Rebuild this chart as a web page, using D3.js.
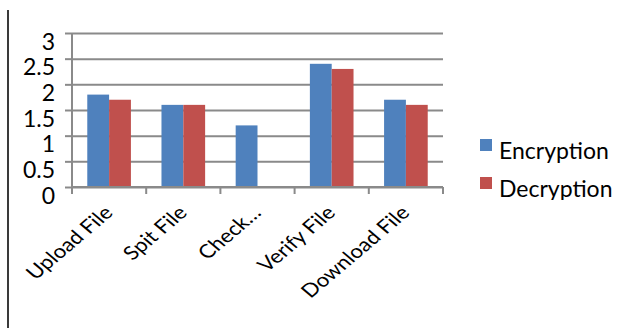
<!DOCTYPE html>
<html>
<head>
<meta charset="utf-8">
<script src="https://cdn.jsdelivr.net/npm/d3@7"></script>
<style>
  html, body { margin: 0; padding: 0; background: #fff; }
  svg { display: block; }
  text { font-family: Lato, "Open Sans", sans-serif; fill: #000; }
</style>
</head>
<body>
<svg id="chart" width="639" height="329"></svg>
<script>
// Processing steps and timings for each series
const categories = ["Upload File", "Spit File", "Check…", "Verify File", "Download File"];
const seriesNames = ["Encryption", "Decryption"];
const encryption = [1.8, 1.6, 1.2, 2.4, 1.7];
const decryption = [1.7, 1.6, 0, 2.3, 1.6];
const yTicks = [0, 0.5, 1, 1.5, 2, 2.5, 3];
const colors = ["#4F81BD", "#C0504D"];

const svg = d3.select("#chart");
const plot = { left: 72, right: 443, top: 33, bottom: 187 };

const x = d3.scaleBand().domain(categories).range([plot.left, plot.right]).padding(0);
const xi = d3.scaleBand().domain(seriesNames).range([0, x.bandwidth()]).paddingInner(0).paddingOuter(0.7);
const y = d3.scaleLinear().domain([0, 3]).range([plot.bottom, plot.top]);

const gridColor = "#8a8a8a";

// frame line on the left edge
svg.append("line")
  .attr("x1", 8).attr("x2", 8).attr("y1", 10).attr("y2", 328)
  .attr("stroke", "#3a3a3a").attr("stroke-width", 2);

// horizontal gridlines
const grid = svg.append("g")
  .attr("transform", `translate(${plot.left},0)`)
  .call(d3.axisLeft(y).tickValues(yTicks).tickSize(-(plot.right - plot.left)).tickFormat(""));
grid.select(".domain").remove();
grid.selectAll(".tick line").attr("stroke", gridColor).attr("stroke-width", 2);

// y axis with outward ticks
const yAxis = svg.append("g")
  .attr("transform", `translate(${plot.left},0)`)
  .call(d3.axisLeft(y).tickValues(yTicks).tickSize(7).tickPadding(0).tickFormat(d => String(d)));
yAxis.select(".domain").attr("stroke", gridColor).attr("stroke-width", 2)
  .attr("d", `M0,${plot.top}V${plot.bottom}`);
yAxis.selectAll(".tick line").attr("stroke", gridColor).attr("stroke-width", 2);
yAxis.selectAll(".tick text")
  .attr("x", -17).attr("y", 8).attr("dy", "0.36em")
  .attr("font-size", 23).attr("text-anchor", "end")
  .attr("font-family", "Lato, sans-serif");

// bars
const rows = categories.map((c, i) => ({ c, vals: [encryption[i], decryption[i]] }));
const groups = svg.append("g").selectAll("g").data(rows).join("g")
  .attr("transform", d => `translate(${x(d.c)},0)`);
groups.selectAll("rect")
  .data(d => d.vals.map((v, j) => ({ s: seriesNames[j], v, j })))
  .join("rect")
  .attr("x", d => xi(d.s))
  .attr("width", xi.bandwidth())
  .attr("y", d => y(d.v))
  .attr("height", d => y(0) - y(d.v))
  .attr("fill", d => colors[d.j]);

// x axis line with ticks at category boundaries
const xAxis = svg.append("g")
  .attr("transform", `translate(0,${plot.bottom})`)
  .call(d3.axisBottom(x).tickSize(0).tickFormat(""));
xAxis.select(".domain").attr("stroke", gridColor).attr("stroke-width", 2)
  .attr("d", `M${plot.left},0H${plot.right}`);
const bounds = categories.map(c => x(c)).concat([x(categories[categories.length - 1]) + x.bandwidth()]);
xAxis.selectAll(".bound").data(bounds).join("line")
  .attr("class", "bound")
  .attr("x1", d => d).attr("x2", d => d)
  .attr("y1", 0).attr("y2", 7)
  .attr("stroke", gridColor).attr("stroke-width", 2);

// rotated category labels
svg.append("g").selectAll("text").data(categories).join("text")
  .attr("transform", d => `translate(${x(d) + x.bandwidth() / 2 + 5},${plot.bottom + 27}) scale(1.18,1) rotate(-45)`)
  .attr("text-anchor", "end")
  .attr("font-size", 19)
  .text(d => d);

// legend
svg.append("defs").append("clipPath").attr("id", "legclip")
  .append("rect").attr("x", 470).attr("y", 120).attr("width", 169).attr("height", 80);
const legend = svg.append("g").attr("clip-path", "url(#legclip)");
const li = legend.selectAll("g").data(seriesNames).join("g")
  .attr("transform", (d, i) => `translate(480,${139 + i * 38})`);
li.append("rect").attr("width", 12).attr("height", 12).attr("fill", (d, i) => colors[i]);
li.append("text").attr("x", 19).attr("y", 20).attr("font-size", 23).text(d => d);
</script>
</body>
</html>
